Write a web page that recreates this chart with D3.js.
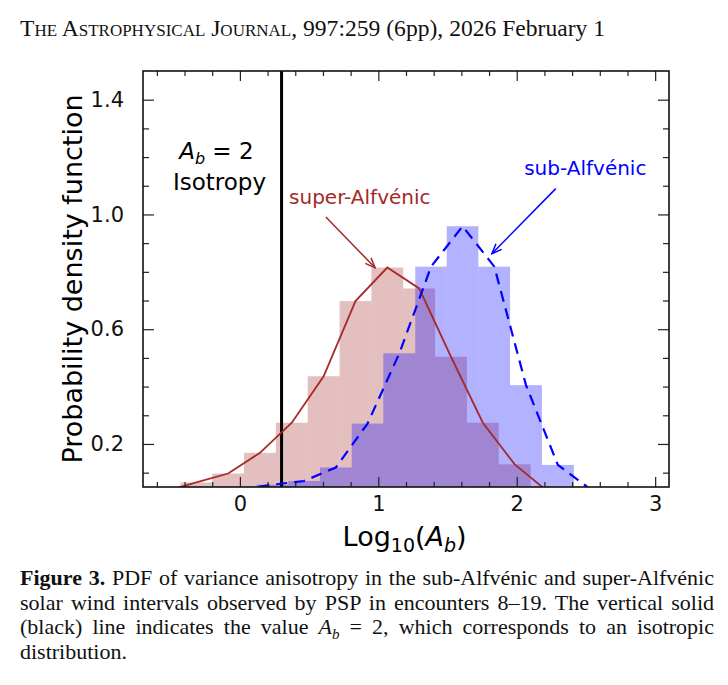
<html>

<head>
  <script src="https://d3js.org/d3.v7.min.js"></script>
  <style>
    body {
      margin: 0;
      background: #fff;
    }

    .axis .domain {
      stroke: none;
    }

    .axis line {
      stroke: #222;
      stroke-width: 1.2;
    }

    .axis text {
      font-family: "DejaVu Sans";
      font-size: 21px;
      fill: #111;
    }

    #caption {
      position: absolute;
      left: 20px;
      top: 566px;
      width: 694px;
      font-family: "Liberation Serif";
      font-size: 22px;
      line-height: 24.5px;
      color: #111;
    }

    #caption div {
      white-space: nowrap;
      text-align: justify;
      text-align-last: justify;
      height: 24.5px;
    }

    #caption div.last {
      text-align-last: left;
    }

    #caption .sub {
      font-size: 15px;
      position: relative;
      top: 5px;
      line-height: 0;
    }
  </style>
</head>

<body>
  <svg id="p1" width="728" height="685"></svg>
  <div id="caption">
    <div><b>Figure 3.</b> PDF of variance anisotropy in the sub-Alfvénic and super-Alfvénic</div>
    <div>solar wind intervals observed by PSP in encounters 8–19. The vertical solid</div>
    <div>(black) line indicates the value <i>A<span class="sub">b</span></i> = 2, which corresponds to an isotropic</div>
    <div class="last">distribution.</div>
  </div>
  <script>
    // histogram bins
    const superEdges = [-0.43, -0.20, 0.03, 0.26, 0.49, 0.72, 0.95, 1.18, 1.41, 1.64, 1.87, 2.10]
    const superHeights = [0.066, 0.097, 0.169, 0.274, 0.436, 0.698, 0.815, 0.742, 0.504, 0.274, 0.129]
    const subEdges = [0.12, 0.349, 0.578, 0.808, 1.036, 1.267, 1.494, 1.723, 1.952, 2.182, 2.413]
    const subHeights = [0.058, 0.071, 0.118, 0.271, 0.516, 0.818, 0.959, 0.818, 0.405, 0.127]

    // pdf curves
    const superCurveX = [-0.545, -0.315, -0.085, 0.145, 0.375, 0.605, 0.835, 1.065, 1.295, 1.525, 1.755, 1.985, 2.215]
    const superCurveY = [0.034, 0.066, 0.097, 0.169, 0.274, 0.436, 0.698, 0.815, 0.742, 0.504, 0.274, 0.129, 0.038]
    const subCurveX = [0.005, 0.235, 0.464, 0.693, 0.922, 1.152, 1.381, 1.609, 1.838, 2.067, 2.297, 2.527]
    const subCurveY = [0.042, 0.058, 0.071, 0.118, 0.271, 0.516, 0.818, 0.959, 0.818, 0.405, 0.127, 0.044]

    const isotropyLine = Math.log10(2)

    const xMajor = [0, 1, 2, 3]
    const xMinor = [-0.6, -0.4, -0.2, 0.2, 0.4, 0.6, 0.8, 1.2, 1.4, 1.6, 1.8, 2.2, 2.4, 2.6, 2.8]
    const yMajor = [0.2, 0.6, 1.0, 1.4]
    const yMinor = [0.1, 0.3, 0.4, 0.5, 0.7, 0.8, 0.9, 1.1, 1.2, 1.3]

    // arrows: [x0, y0, x1, y1]
    const superArrow = [0.621, 0.991, 0.977, 0.814]
    const subArrow = [2.282, 1.090, 1.820, 0.863]

    const svg = d3.select('#p1');
    const margin = { top: 71, left: 143 };
    const chartWidth = 526;
    const chartHeight = 416;

    const header = svg.append("text")
      .attr("x", 20).attr("y", 36)
      .style("font-family", "Liberation Serif")
      .style("font-size", "23.6px")
      .attr("fill", "#111")
    header.append("tspan").style("font-variant", "small-caps").text("The Astrophysical Journal")
    header.append("tspan").text(", 997:259 (6pp), 2026 February 1")

    const xScale = d3.scaleLinear().domain([-0.7, 3.1]).range([0, chartWidth])
    const yScale = d3.scaleLinear().domain([0.05, 1.5]).range([chartHeight, 0])

    svg.append("defs").append("clipPath").attr("id", "clip")
      .append("rect").attr("width", chartWidth).attr("height", chartHeight)

    const defs = svg.select("defs")
    const addMarker = (id, color) => {
      defs.append("marker").attr("id", id)
        .attr("viewBox", "0 0 12 10").attr("refX", 11).attr("refY", 5)
        .attr("markerWidth", 12).attr("markerHeight", 10)
        .attr("markerUnits", "userSpaceOnUse")
        .attr("orient", "auto")
        .append("path").attr("d", "M1,1 L11,5 L1,9")
        .attr("fill", "none").attr("stroke", color).attr("stroke-width", 1.5)
    }
    addMarker("arrowRed", "#a52a2a")
    addMarker("arrowBlue", "#0000ff")

    const chartArea = svg.append("g")
      .attr("transform", `translate(${margin.left},${margin.top})`);
    const plot = chartArea.append("g").attr("clip-path", "url(#clip)")

    const bins = (edges, heights) => heights.map((h, i) => ({ x0: edges[i], x1: edges[i + 1], h: h }))

    plot.selectAll("rect.super").data(bins(superEdges, superHeights))
      .join("rect").attr("class", "super")
      .attr("x", d => xScale(d.x0))
      .attr("width", d => xScale(d.x1) - xScale(d.x0))
      .attr("y", d => yScale(d.h))
      .attr("height", d => chartHeight - yScale(d.h) + 2)
      .style("fill", "#a52a2a").style("fill-opacity", 0.3)

    plot.selectAll("rect.sub").data(bins(subEdges, subHeights))
      .join("rect").attr("class", "sub")
      .attr("x", d => xScale(d.x0))
      .attr("width", d => xScale(d.x1) - xScale(d.x0))
      .attr("y", d => yScale(d.h))
      .attr("height", d => chartHeight - yScale(d.h) + 2)
      .style("fill", "#0000ff").style("fill-opacity", 0.3)

    plot.append("line")
      .attr("x1", xScale(isotropyLine)).attr("x2", xScale(isotropyLine))
      .attr("y1", 0).attr("y2", chartHeight)
      .style("stroke", "#000").style("stroke-width", 3)

    const line = d3.line().x(d => xScale(d[0])).y(d => yScale(d[1]))

    plot.append("path")
      .attr("d", line(d3.zip(superCurveX, superCurveY)))
      .style("fill", "none").style("stroke", "#a52a2a").style("stroke-width", 1.8)

    plot.append("path")
      .attr("d", line(d3.zip(subCurveX, subCurveY)))
      .style("fill", "none").style("stroke", "#0000ff").style("stroke-width", 2.2)
      .style("stroke-dasharray", "11,7")

    const arrow = (a, color, id) => {
      chartArea.append("line")
        .attr("x1", xScale(a[0])).attr("y1", yScale(a[1]))
        .attr("x2", xScale(a[2])).attr("y2", yScale(a[3]))
        .style("stroke", color).style("stroke-width", 1.5)
        .attr("marker-end", `url(#${id})`)
    }
    arrow(superArrow, "#a52a2a", "arrowRed")
    arrow(subArrow, "#0000ff", "arrowBlue")

    // annotations
    chartArea.append("text")
      .attr("x", xScale(0.355)).attr("y", yScale(1.036))
      .style("font-family", "DejaVu Sans").style("font-size", "20px")
      .attr("fill", "#a52a2a").text("super-Alfvénic")
    chartArea.append("text")
      .attr("x", xScale(2.054)).attr("y", yScale(1.138))
      .style("font-family", "DejaVu Sans").style("font-size", "20px")
      .attr("fill", "#0000ff").text("sub-Alfvénic")

    const ab = chartArea.append("text")
      .attr("x", xScale(-0.17)).attr("y", yScale(1.193))
      .attr("text-anchor", "middle")
      .style("font-family", "DejaVu Sans").style("font-size", "23px")
    ab.append("tspan").style("font-style", "italic").text("A")
    ab.append("tspan").style("font-style", "italic").style("font-size", "16px").attr("dy", 5).text("b")
    ab.append("tspan").attr("dy", -5).text(" = 2")
    chartArea.append("text")
      .attr("x", xScale(-0.147)).attr("y", yScale(1.085))
      .attr("text-anchor", "middle")
      .style("font-family", "DejaVu Sans").style("font-size", "23px")
      .text("Isotropy")

    // axes with inward ticks on all sides
    const addAxis = (axis, transform, labels) => {
      const g = chartArea.append("g").attr("class", "axis")
        .attr("transform", transform).call(axis)
      if (!labels) g.selectAll("text").remove()
      return g
    }
    addAxis(d3.axisBottom(xScale).tickValues(xMajor).tickSize(-10).tickPadding(9).tickFormat(d3.format("d")),
      `translate(0,${chartHeight})`, true)
    addAxis(d3.axisBottom(xScale).tickValues(xMinor).tickSize(-5), `translate(0,${chartHeight})`, false)
    addAxis(d3.axisTop(xScale).tickValues(xMajor).tickSize(-10), `translate(0,0)`, false)
    addAxis(d3.axisTop(xScale).tickValues(xMinor).tickSize(-5), `translate(0,0)`, false)
    addAxis(d3.axisLeft(yScale).tickValues(yMajor).tickSize(-11).tickPadding(19).tickFormat(d3.format(".1f")),
      `translate(0,0)`, true)
    addAxis(d3.axisLeft(yScale).tickValues(yMinor).tickSize(-6), `translate(0,0)`, false)
    addAxis(d3.axisRight(yScale).tickValues(yMajor).tickSize(-11), `translate(${chartWidth},0)`, false)
    addAxis(d3.axisRight(yScale).tickValues(yMinor).tickSize(-6), `translate(${chartWidth},0)`, false)

    chartArea.append("rect")
      .attr("width", chartWidth).attr("height", chartHeight)
      .style("fill", "none").style("stroke", "#111").style("stroke-width", 1.6)

    // axis titles
    svg.append("text")
      .attr("transform", `translate(82,${margin.top + chartHeight / 2}) rotate(-90)`)
      .attr("text-anchor", "middle")
      .style("font-family", "DejaVu Sans").style("font-size", "27px")
      .text("Probability density function")

    const xl = svg.append("text")
      .attr("x", margin.left + xScale(1.19)).attr("y", 546)
      .attr("text-anchor", "middle")
      .style("font-family", "DejaVu Sans").style("font-size", "27px")
    xl.append("tspan").text("Log")
    xl.append("tspan").style("font-size", "19px").attr("dy", 6).text("10")
    xl.append("tspan").attr("dy", -6).text("(")
    xl.append("tspan").style("font-style", "italic").text("A")
    xl.append("tspan").style("font-style", "italic").style("font-size", "19px").attr("dy", 6).text("b")
    xl.append("tspan").attr("dy", -6).text(")")
  </script>
</body>

</html>
